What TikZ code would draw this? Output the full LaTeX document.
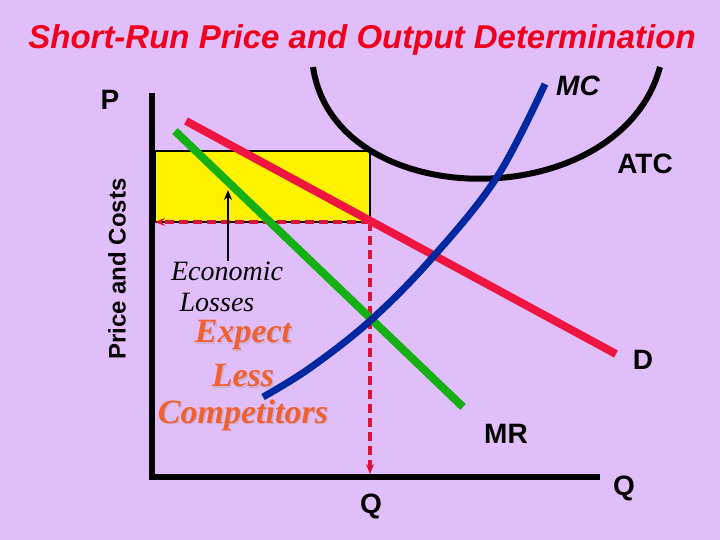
\documentclass[tikz,border=0pt]{standalone}
\usepackage{fontspec}
\setmainfont{Liberation Serif}
\setsansfont{Liberation Sans}
\usetikzlibrary{arrows.meta}
\definecolor{bgc}{RGB}{224,190,250}
\definecolor{dred}{RGB}{240,20,64}
\definecolor{dashred}{RGB}{215,20,60}
\definecolor{mrgreen}{RGB}{20,176,20}
\definecolor{mcblue}{RGB}{0,40,160}
\definecolor{titlered}{RGB}{240,0,30}
\definecolor{expcol}{RGB}{240,96,48}
\definecolor{shadowc}{RGB}{205,175,215}
\tikzset{
  lbl/.style={font=\sffamily\bfseries\fontsize{28}{32}\selectfont, inner sep=0pt},
  econ/.style={font=\itshape\fontsize{28}{32}\selectfont, inner sep=0pt},
  expt/.style={font=\bfseries\itshape\fontsize{34}{40}\selectfont, inner sep=0pt},
  axisline/.style={line width=6pt, black},
  dashln/.style={dashred, line width=3.5pt, dash pattern=on 9pt off 5pt, -{Stealth[length=10pt,width=8pt]}}
}
\begin{document}
\begin{tikzpicture}[x=1pt,y=-1pt]
\fill[bgc] (0,0) rectangle (720,540);
\useasboundingbox (0,0) rectangle (720,540);
% title
\node[font=\sffamily\bfseries\itshape\fontsize{33}{37}\selectfont, text=titlered, inner sep=0pt] (title) at (362,40) {Short-Run Price and Output Determination};
% yellow box
\coordinate (boxtl) at (155,151);
\coordinate (boxbr) at (370,222);
\coordinate (boxbl) at (155,222);
\coordinate (qbot) at (370,474);
\filldraw[fill=yellow, draw=black, line width=1.2pt] (boxtl) rectangle (boxbr);
% axes
\draw[axisline] (152,93) -- (152,477) -- (600,477);
% dashed lines
\draw[dashln] (boxbr) -- (boxbl);
\draw[dashln] (boxbr) -- (qbot);
% ATC
\draw[line width=6pt, black] (313,67) .. controls (335,216) and (620,216) .. (660,67);
% D
\draw[line width=8pt, dred] (186,121) -- (616,354);
% MR
\draw[line width=8pt, mrgreen] (175,131) -- (463,407);
% MC
\draw[line width=7pt, mcblue] plot[smooth, tension=0.6] coordinates {(263,397) (310,368) (371,320) (433,257) (497,177) (545,84)};
% economic losses arrow
\node[econ] (ec1) at (227,271) {Economic};
\node[econ] (ec2) at (217,302) {Losses};
\coordinate (arrtip) at (228,190);
\draw[line width=1.8pt, -{Stealth[length=10pt,width=8pt]}] (ec1.north -| arrtip) -- (arrtip);
% expect text with shadow
\node[expt, text=shadowc] at (244.5,336.5) {Expect};
\node[expt, text=shadowc] at (244.5,377.5) {Less};
\node[expt, text=shadowc] at (244.5,416.5) {Competitors};
\node[expt, text=expcol] (ex1) at (243,335) {Expect};
\node[expt, text=expcol] (ex2) at (243,376) {Less};
\node[expt, text=expcol] (ex3) at (243,415) {Competitors};
% labels
\node[lbl, font=\sffamily\bfseries\itshape\fontsize{28}{32}\selectfont] (mc) at (578,86) {MC};
\node[lbl] (atc) at (645,164) {ATC};
\node[lbl] (d) at (643,360) {D};
\node[lbl] (mr) at (506,434) {MR};
\node[lbl] (q1) at (371,506) {Q};
\node[lbl] (q2) at (624,488) {Q};
\node[lbl] (p) at (110,100) {P};
\node[font=\sffamily\bfseries\fontsize{24}{28}\selectfont, rotate=90, inner sep=0pt] (pc) at (117,269) {Price and Costs};
\end{tikzpicture}
\end{document}
